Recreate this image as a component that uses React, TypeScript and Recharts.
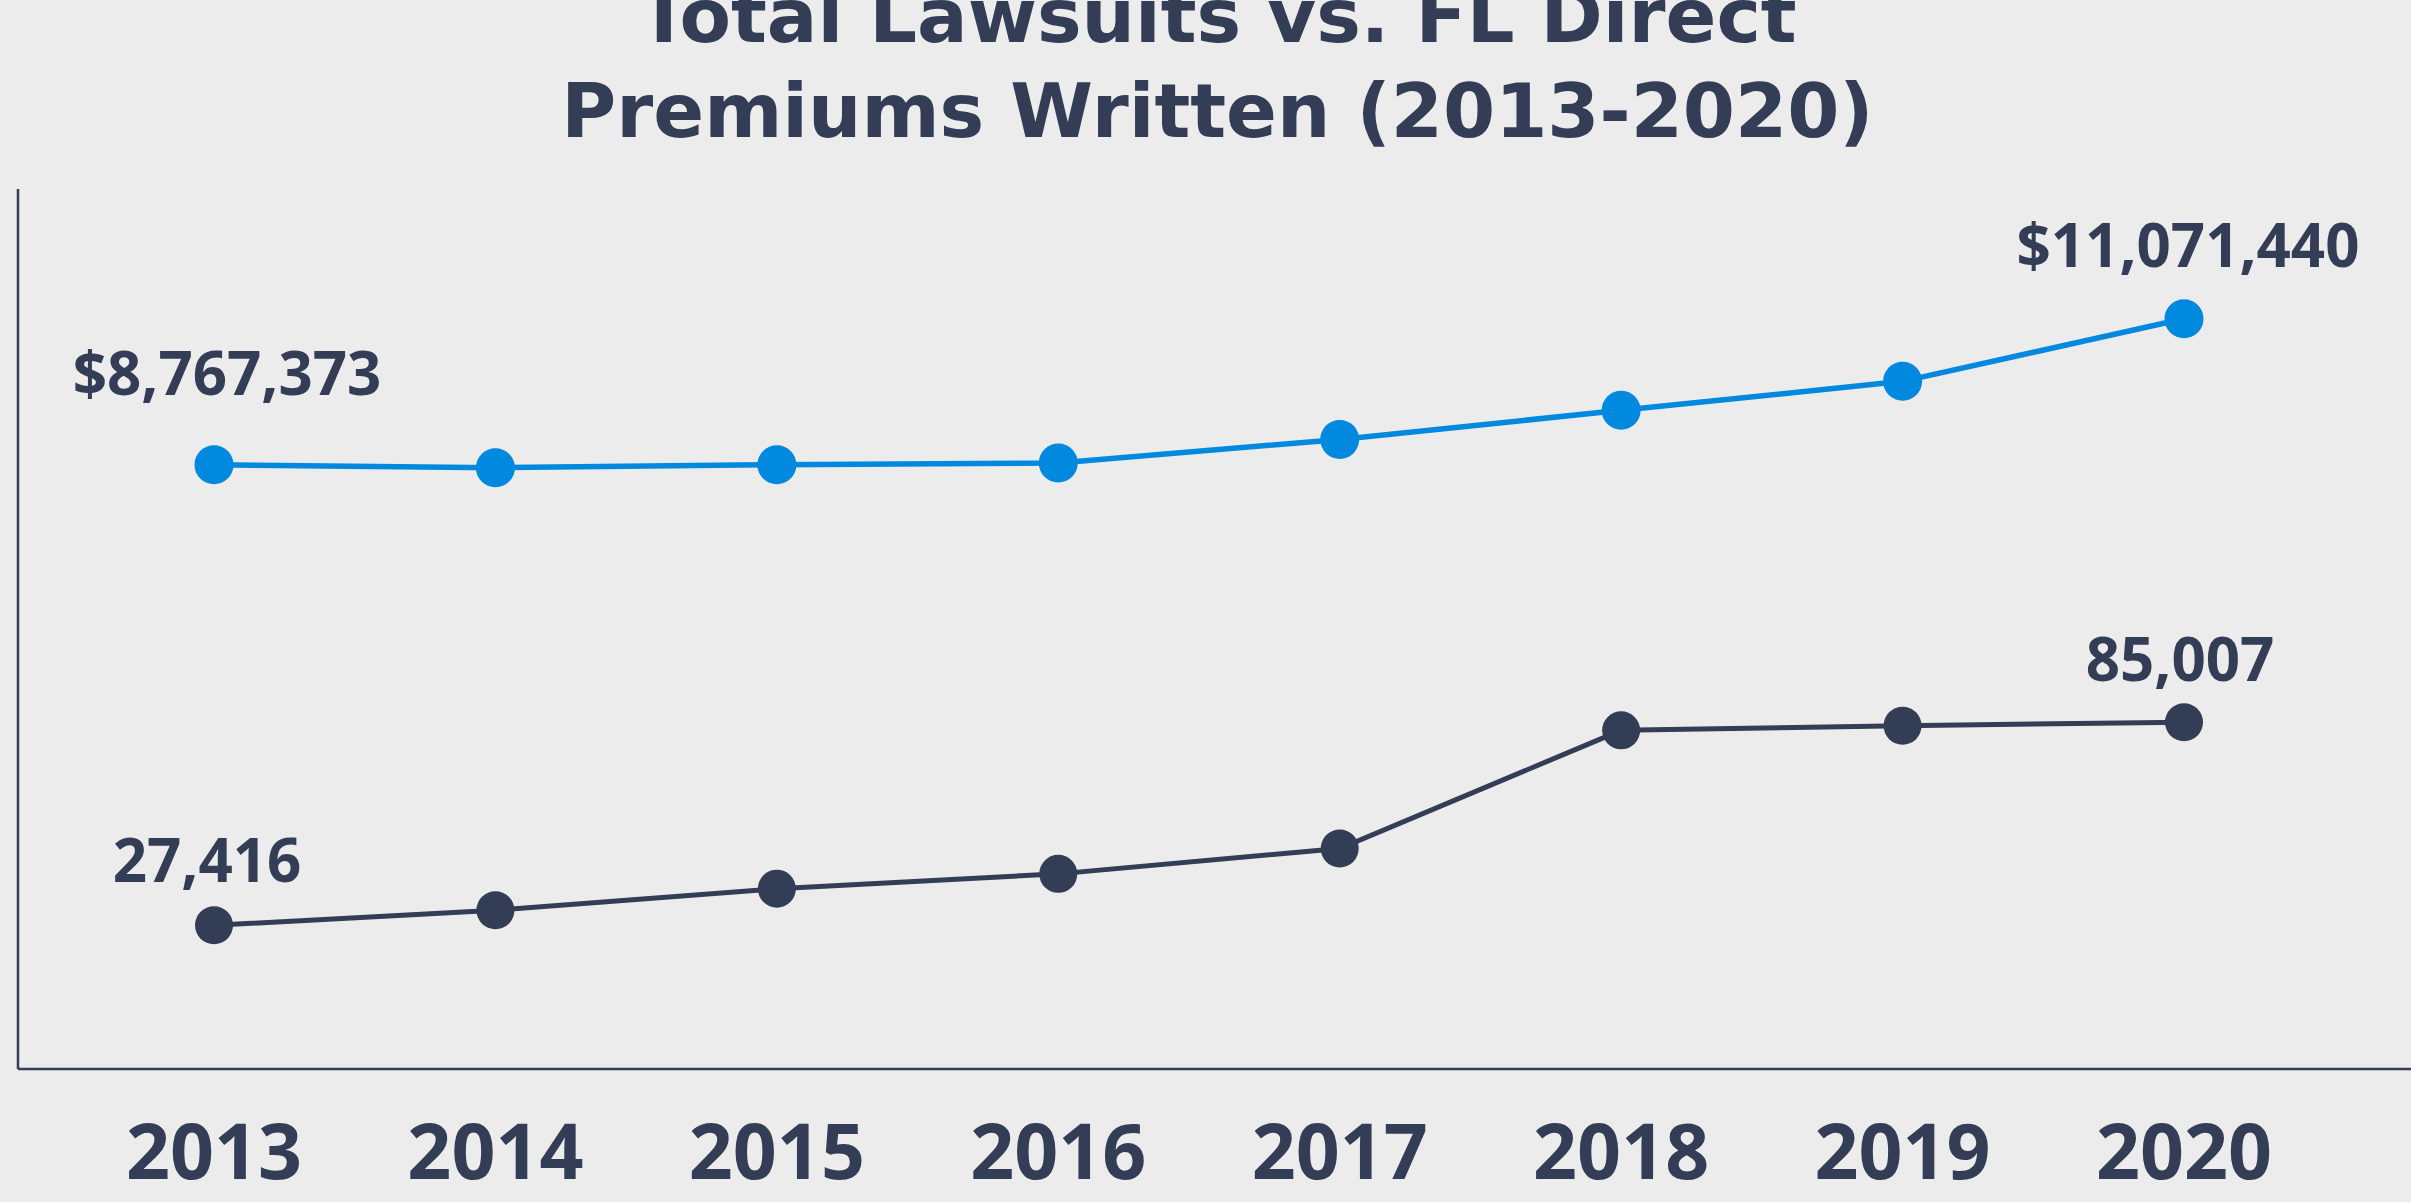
import { LineChart, Line, XAxis, YAxis, LabelList } from "recharts";

// ── Data ──────────────────────────────────────────────────────────────────────

const YEARS = ["2013", "2014", "2015", "2016", "2017", "2018", "2019", "2020"];

// FL direct premiums written ($)
const PREMIUMS = [
  8767373, 8720000, 8767000, 8794000, 9167000, 9626000, 10084000, 11071440,
];

// Total lawsuits
const LAWSUITS = [27416, 31700, 37800, 42000, 49200, 82700, 84000, 85007];

const TITLE_LINES = ["Total Lawsuits vs. FL Direct", "Premiums Written (2013-2020)"];

// ── Constants ─────────────────────────────────────────────────────────────────

const W = 2411;
const H = 1202;
const BG = "#ececec";
const NAVY = "#343d56";
const BLUE = "#0089de";
const TITLE_FONT = "'DejaVu Sans', sans-serif";
const FONT = "'Open Sans', sans-serif";

// hidden scales, picked so both series sit where they do in the original
const LAWSUIT_DOMAIN: [number, number] = [-13332, 236200];
const PREMIUM_DOMAIN: [number, number] = [-776215, 13121448];

const chartData = YEARS.map((year, i) => ({
  year,
  premiums: PREMIUMS[i],
  lawsuits: LAWSUITS[i],
}));

// ── End labels (first + last point only) ──────────────────────────────────────

function endLabel(
  format: (v: number) => string,
  first: { dx: number; dy: number },
  last: { dx: number; dy: number },
) {
  return function EndLabel(props: any) {
    const { x, y, value, index } = props;
    if (index !== 0 && index !== YEARS.length - 1) return null;
    const off = index === 0 ? first : last;
    return (
      <text
        x={x + off.dx}
        y={y + off.dy}
        textAnchor="middle"
        fontFamily={FONT}
        fontWeight={700}
        fontSize={60}
        fill={NAVY}
      >
        {format(Number(value))}
      </text>
    );
  };
}

const fmtMoney = (v: number) => "$" + v.toLocaleString("en-US");
const fmtCount = (v: number) => v.toLocaleString("en-US");

// ── Chart ─────────────────────────────────────────────────────────────────────

export default function App() {
  return (
    <div
      style={{
        position: "absolute",
        left: 0,
        top: 0,
        width: W,
        height: H,
        background: BG,
        overflow: "hidden",
      }}
    >
      {/* Title (top line is cropped in the original) */}
      <div
        style={{
          position: "absolute",
          left: 12,
          top: -31,
          width: W,
          textAlign: "center",
          fontFamily: TITLE_FONT,
          fontWeight: 700,
          fontSize: 75,
          lineHeight: "95px",
          color: NAVY,
          whiteSpace: "nowrap",
        }}
      >
        {TITLE_LINES.map((t) => (
          <div key={t}>{t}</div>
        ))}
      </div>

      <div style={{ position: "absolute", left: 0, top: 0 }}>
        <LineChart
          width={W}
          height={H}
          data={chartData}
          margin={{ top: 189, right: 0, bottom: 0, left: 16 }}
        >
          <XAxis
            dataKey="year"
            height={133}
            padding={{ left: 196, right: 227 }}
            axisLine={{ stroke: NAVY, strokeWidth: 2.5 }}
            tickLine={false}
            tickSize={0}
            tickMargin={55}
            tick={{
              fontSize: 77,
              fontWeight: 700,
              fill: NAVY,
              fontFamily: FONT,
            }}
            interval={0}
          />
          <YAxis
            yAxisId="lawsuits"
            type="number"
            domain={LAWSUIT_DOMAIN}
            allowDataOverflow
            width={2}
            tick={false}
            tickLine={false}
            axisLine={{ stroke: NAVY, strokeWidth: 2.5 }}
          />
          <YAxis
            yAxisId="premiums"
            type="number"
            domain={PREMIUM_DOMAIN}
            allowDataOverflow
            hide
          />
          <Line
            yAxisId="premiums"
            dataKey="premiums"
            type="linear"
            stroke={BLUE}
            strokeWidth={5.5}
            dot={{ r: 19.5, fill: BLUE, stroke: BLUE, strokeWidth: 0 }}
            activeDot={false}
            isAnimationActive={false}
          >
            <LabelList
              dataKey="premiums"
              content={endLabel(fmtMoney, { dx: 13, dy: -70 }, { dx: 4, dy: -52 })}
            />
          </Line>
          <Line
            yAxisId="lawsuits"
            dataKey="lawsuits"
            type="linear"
            stroke={NAVY}
            strokeWidth={5}
            dot={{ r: 19, fill: NAVY, stroke: NAVY, strokeWidth: 0 }}
            activeDot={false}
            isAnimationActive={false}
          >
            <LabelList
              dataKey="lawsuits"
              content={endLabel(fmtCount, { dx: -7, dy: -43 }, { dx: -4, dy: -41 })}
            />
          </Line>
        </LineChart>
      </div>
    </div>
  );
}
